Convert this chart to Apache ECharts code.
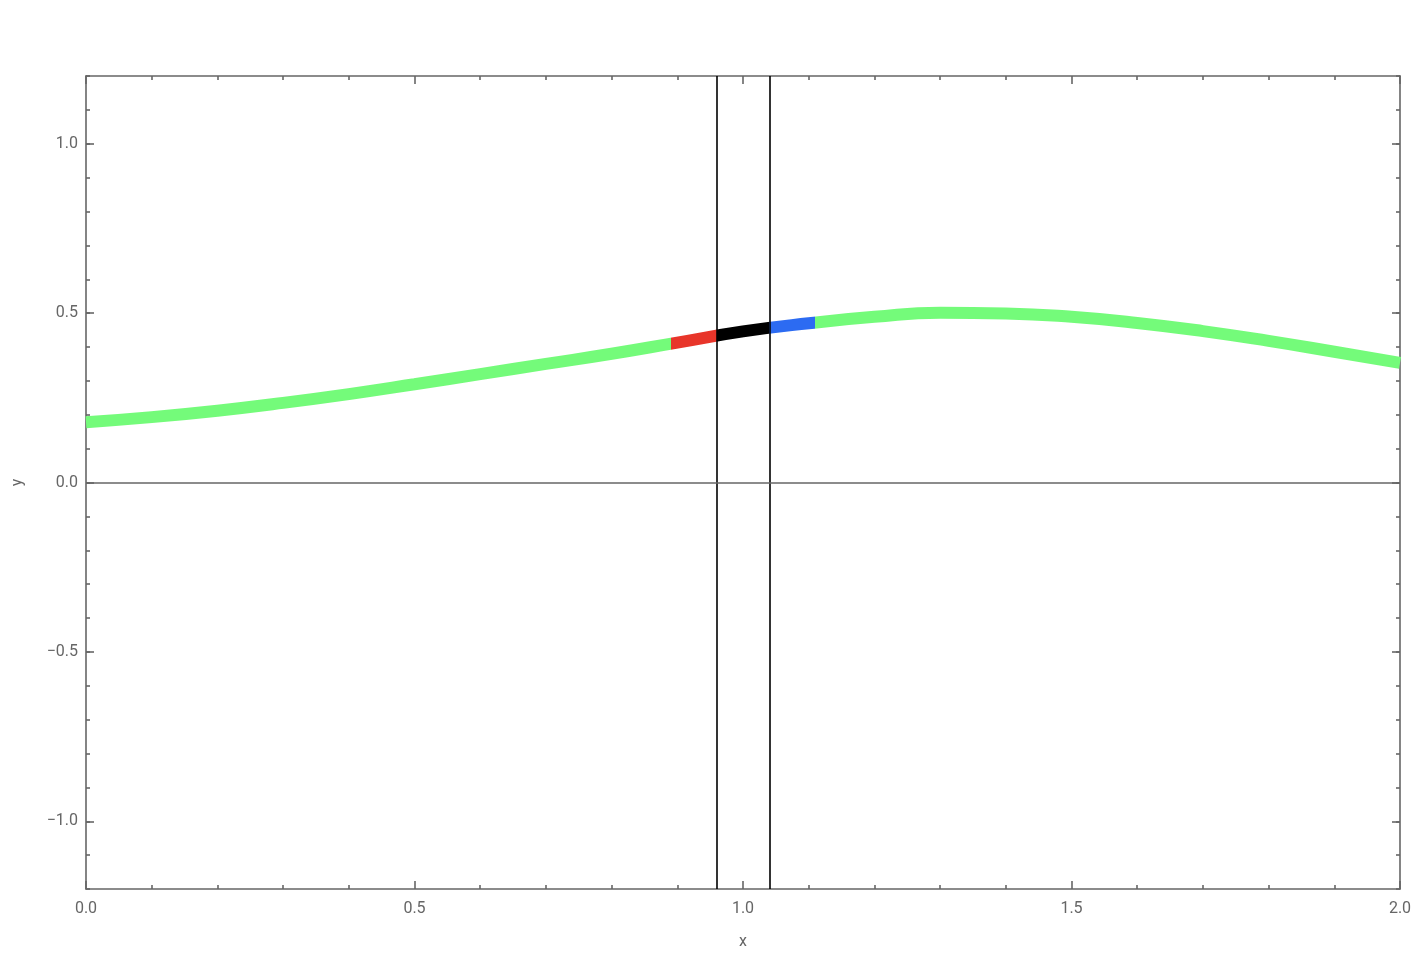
<!DOCTYPE html>
<html>
<head>
<meta charset="utf-8">
<script src="https://cdn.jsdelivr.net/npm/echarts@6/dist/echarts.min.js"></script>
<style>html,body{margin:0;padding:0;background:#fff}#c{width:1428px;height:960px}</style>
</head>
<body>
<div id="c"></div>
<script>
// Curve samples
var xs = [0.0,0.1,0.2,0.3,0.4,0.5,0.6,0.7,0.8,0.9,1.0,1.1,1.2,1.3,1.4,1.5,1.6,1.7,1.8,1.9,2.0];
var ys = [0.178,0.193,0.212,0.235,0.261,0.290,0.320,0.350,0.380,0.413,0.446,0.470,0.489,0.501,0.499,0.489,0.471,0.447,0.418,0.386,0.353];
// Highlighted segment boundaries and colours
var segBounds = [0.89, 0.96, 1.04, 1.11];
var segColors = ['#e8352a', '#000000', '#2c6bf2'];
var baseColor = '#74fb7a';
// Vertical reference lines
var vLines = [0.96, 1.04];
// Tick values
var yMajor = [-1.0, -0.5, 0.0, 0.5, 1.0];
var yMinor = [-1.2,-1.1,-1.0,-0.9,-0.8,-0.7,-0.6,-0.5,-0.4,-0.3,-0.2,-0.1,0,0.1,0.2,0.3,0.4,0.5,0.6,0.7,0.8,0.9,1.0,1.1,1.2];

var axisCol = '#666666';
var fontFam = 'Roboto, "Open Sans", sans-serif';
function fmt(v){ var s = Math.abs(v).toFixed(1); return v < -1e-9 ? '\u2212' + s : s; }

var data = xs.map(function(x,i){ return [x, ys[i]]; });

var pieces = [{lt: segBounds[0], color: baseColor}];
for (var i = 0; i < segColors.length; i++) {
  pieces.push({gte: segBounds[i], lt: segBounds[i+1], color: segColors[i]});
}
pieces.push({gte: segBounds[segBounds.length-1], color: baseColor});

function xAx(pos, labels) {
  return {
    type: 'value', position: pos, min: 0, max: 2, interval: 0.5,
    name: labels ? 'x' : '', nameLocation: 'middle', nameGap: 45,
    nameTextStyle: {color: axisCol, fontSize: 16, fontFamily: fontFam},
    axisLine: {show: true, onZero: false, lineStyle: {color: axisCol, width: 1.6}},
    axisTick: {show: true, inside: true, length: 8, lineStyle: {color: axisCol, width: 1.6}},
    minorTick: {show: true, splitNumber: 5, length: 4, lineStyle: {color: axisCol, width: 1.6}},
    axisLabel: {show: labels, margin: 12, color: axisCol, fontSize: 16, fontFamily: fontFam, formatter: fmt},
    splitLine: {show: false}, minorSplitLine: {show: false}
  };
}
function yAx(pos, labels, major) {
  return {
    type: 'value', position: pos, min: -1.2, max: 1.2,
    name: (labels && major) ? 'y' : '', nameLocation: 'middle', nameGap: 60, nameRotate: 90,
    nameTextStyle: {color: axisCol, fontSize: 16, fontFamily: fontFam},
    axisLine: {show: major, onZero: false, lineStyle: {color: axisCol, width: 1.6}},
    axisTick: {show: true, inside: true, length: major ? 8 : 4, customValues: major ? yMajor : yMinor,
               lineStyle: {color: axisCol, width: 1.6}},
    axisLabel: {show: labels && major, margin: 8, color: axisCol, fontSize: 16, fontFamily: fontFam,
                customValues: yMajor, formatter: fmt},
    splitLine: {show: false}
  };
}

var chart = echarts.init(document.getElementById('c'), null, {renderer: 'canvas'});
chart.setOption({
  backgroundColor: '#ffffff',
  animation: false,
  grid: {left: 86, right: 28, top: 76, bottom: 71, containLabel: false},
  xAxis: [xAx('bottom', true), xAx('top', false)],
  yAxis: [yAx('left', true, true), yAx('left', false, false), yAx('right', false, true), yAx('right', false, false)],
  visualMap: {type: 'piecewise', show: false, dimension: 0, seriesIndex: 0, pieces: pieces},
  series: [
    {
      type: 'line', xAxisIndex: 0, yAxisIndex: 0, data: data, smooth: 0.5, showSymbol: false,
      lineStyle: {width: 12, cap: 'butt'}, z: 3
    },
    {
      type: 'line', xAxisIndex: 0, yAxisIndex: 0, data: [], silent: true, z: 4,
      markLine: {
        symbol: ['none', 'none'], silent: true, label: {show: false},
        lineStyle: {type: 'solid'},
        data: vLines.map(function(v){ return {xAxis: v, lineStyle: {color: '#000', width: 1.6}}; })
          .concat([{yAxis: 0, lineStyle: {color: axisCol, width: 1.6}}])
      }
    }
  ]
});
</script>
</body>
</html>
